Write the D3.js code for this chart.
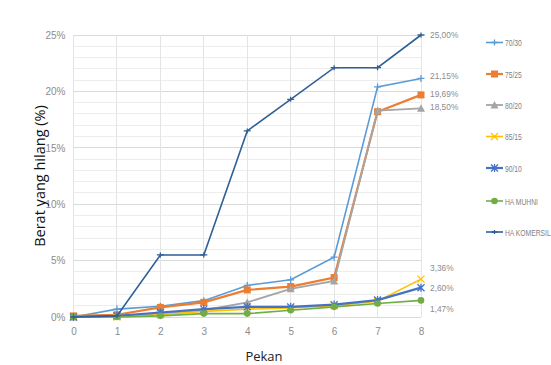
<!DOCTYPE html>
<html><head><meta charset="utf-8">
<script src="https://cdn.jsdelivr.net/npm/d3@7"></script>
<style>body{margin:0;background:#fff}svg{display:block}</style>
</head><body>
<script>
const weeks = [0,1,2,3,4,5,6,7,8];
const seriesNames = ["70/30","75/25","80/20","85/15","90/10","HA MUHNI","HA KOMERSIL"];
const s7030 = [0,0.7,0.95,1.45,2.8,3.3,5.3,20.4,21.15];
const s7525 = [0.1,0.2,0.85,1.3,2.4,2.7,3.5,18.2,19.69];
const s8020 = [0,0.1,0.3,0.6,1.3,2.5,3.2,18.3,18.5];
const s8515 = [0,0,0.2,0.5,0.7,0.8,1.0,1.4,3.36];
const s9010 = [0,0.1,0.4,0.7,0.9,0.9,1.1,1.5,2.6];
const sMuhni = [0,0,0.1,0.3,0.3,0.6,0.9,1.2,1.47];
const sKomersil = [0,0.1,5.5,5.5,16.5,19.3,22.1,22.1,25.0];
const endLabels = ["21,15%","19,69%","18,50%","3,36%","2,60%","1,47%","25,00%"];
const yTicks = [0,5,10,15,20,25];
const colors = ["#5B9BD5","#ED7D31","#A5A5A5","#FFC000","#4472C4","#70AD47","#2E5F96"];
const markers = ["plus","square","triangle","x","star","circle","dash"];
const widths = [1.6,2.2,1.8,1.6,2.2,1.6,1.6];
const allSeries = [s7030,s7525,s8020,s8515,s9010,sMuhni,sKomersil];

const W=551,H=365;
const svg=d3.select("body").append("svg").attr("width",W).attr("height",H);
const x=d3.scaleLinear().domain([0,8]).range([73.5,421]);
const y=d3.scaleLinear().domain([0,25]).range([317,35]);
const narrow="Liberation Sans Narrow, Liberation Sans, sans-serif";

const g=svg.append("g");
g.selectAll(".hg").data(d3.range(0,26,1)).enter().append("line")
 .attr("x1",x(0)).attr("x2",x(8)).attr("y1",d=>y(d)).attr("y2",d=>y(d))
 .attr("stroke",d=>d%5===0?"#D9D9D9":"#EDEDED").attr("stroke-width",1).attr("shape-rendering","crispEdges");
g.selectAll(".vg").data(weeks).enter().append("line")
 .attr("x1",d=>x(d)).attr("x2",d=>x(d)).attr("y1",y(25)).attr("y2",y(0))
 .attr("stroke","#E4E4E4").attr("shape-rendering","crispEdges");

const yAxis=d3.axisLeft(y).tickValues(yTicks).tickFormat(d=>d+"%").tickSize(0).tickPadding(8);
const ya=svg.append("g").attr("transform",`translate(${x(0)},0)`).call(yAxis);
ya.select(".domain").remove();
ya.selectAll("text").attr("fill","#8C8C8C").style("font-family",narrow).style("font-size","10px");
const xAxis=d3.axisBottom(x).tickValues(weeks).tickFormat(d3.format("d")).tickSize(0).tickPadding(11);
const xa=svg.append("g").attr("transform",`translate(0,${y(0)})`).call(xAxis);
xa.select(".domain").remove();
xa.selectAll("text").attr("fill","#8C8C8C").style("font-family",narrow).style("font-size","10px");

svg.append("text").attr("transform",`translate(45,176) rotate(-90)`).attr("text-anchor","middle")
 .style("font-family","Open Sans, sans-serif").style("font-size","14.5px").attr("fill","#111").text("Berat yang hilang (%)");
svg.append("text").attr("x",264).attr("y",361).attr("text-anchor","middle")
 .style("font-family","Open Sans, sans-serif").style("font-size","13px").attr("fill","#222").text("Pekan");

function drawMarker(sel,type,color,size){
  const s=size;
  if(type==="plus"||type==="dash"){
    sel.append("path").attr("d",`M${-s},0H${s}`+(type==="plus"?`M0,${-s}V${s}`:`M0,${-s*0.7}V${s*0.7}`)).attr("stroke",color).attr("stroke-width",1.3).attr("fill","none");
  } else if(type==="square"){
    sel.append("rect").attr("x",-3.5).attr("y",-3.5).attr("width",7).attr("height",7).attr("fill",color);
  } else if(type==="triangle"){
    sel.append("path").attr("d","M0,-4L4,3.5L-4,3.5Z").attr("fill",color);
  } else if(type==="x"){
    sel.append("path").attr("d",`M-3.5,-3.5L3.5,3.5M3.5,-3.5L-3.5,3.5`).attr("stroke",color).attr("stroke-width",1.3);
  } else if(type==="star"){
    sel.append("path").attr("d",`M-3.5,-3.5L3.5,3.5M3.5,-3.5L-3.5,3.5M0,-4V4`).attr("stroke",color).attr("stroke-width",1.3);
  } else if(type==="circle"){
    sel.append("circle").attr("r",3.3).attr("fill",color);
  }
}

const line=d3.line().x((d,i)=>x(weeks[i])).y(d=>y(d));
allSeries.forEach((vals,k)=>{
  const sg=svg.append("g");
  sg.append("path").attr("d",line(vals)).attr("fill","none").attr("stroke",colors[k]).attr("stroke-width",widths[k]);
  vals.forEach((v,i)=>{
    const mg=sg.append("g").attr("transform",`translate(${x(weeks[i])},${y(v)})`);
    drawMarker(mg,markers[k],colors[k],3.5);
  });
});

const labelYAdj=[76,94,107,268,288,309,35];
endLabels.forEach((t,k)=>{
  svg.append("text").attr("transform",`translate(430,${labelYAdj[k]+3}) scale(0.88,1)`).text(t)
   .attr("fill","#8C8C8C").style("font-family",narrow).style("font-size","9.5px");
});

const legY=[42.5,74,105,136.5,168,201,232];
seriesNames.forEach((n,k)=>{
  const lg=svg.append("g").attr("transform",`translate(486,${legY[k]})`);
  lg.append("line").attr("x1",0).attr("x2",17).attr("stroke",colors[k]).attr("stroke-width",widths[k]);
  const mg=lg.append("g").attr("transform","translate(8.5,0)");
  drawMarker(mg,markers[k],colors[k],3);
  lg.append("text").attr("transform","translate(19,3.5) scale(0.75,1)").text(n).attr("fill","#7F7F7F")
   .style("font-family",narrow).style("font-size","9px");
});
</script>
</body></html>
